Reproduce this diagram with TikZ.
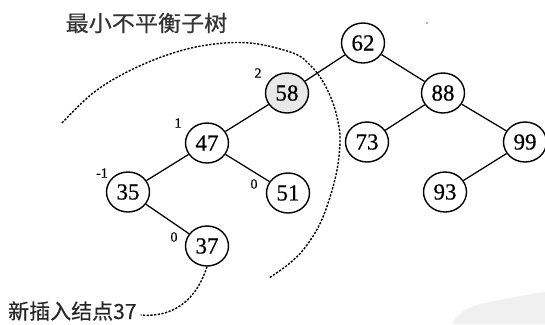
\documentclass[tikz,border=0pt]{standalone}
\usepackage{fontspec}
\setmainfont{Liberation Serif}
\newfontfamily\numfont[FakeBold=0.5]{Liberation Serif}
\newfontfamily\cjk[FakeBold=0.4]{Noto Sans CJK SC}
\newfontfamily\cjkwide[FakeStretch=1.05,FakeBold=0.4]{Noto Sans CJK SC}
\usetikzlibrary{shapes.geometric}
\begin{document}
\begin{tikzpicture}[x=1pt,y=-1pt,
  treenode/.style={draw, ellipse, line width=1.4pt, minimum width=43pt, minimum height=40pt, inner sep=0pt, fill=white, font=\numfont\fontsize{23}{23}\selectfont},
  hotnode/.style={treenode, fill=black!9},
  edge/.style={line width=1.25pt},
  bf/.style={inner sep=0pt, font=\numfont\fontsize{14}{14}\selectfont},
  dashcurve/.style={line width=1.4pt, dash pattern=on 2.2pt off 1.5pt}]
\useasboundingbox (0,0) rectangle (545,324);
% faint background swoosh
\fill[black!6] (452,324) .. controls (458,312) and (470,305) .. (490,302) .. controls (510,298) and (530,294) .. (545,292) -- (545,324) -- cycle;
\fill[black!60] (427,23) circle (0.9pt);
% dashed arc around the minimal unbalanced subtree
\draw[dashcurve] plot[smooth, tension=0.6] coordinates {(62,123) (93,93) (127,72) (167,55) (207,45) (250,43) (293,53) (310,65) (322,80) (331,98) (337,117) (340,140) (336,175) (323,217) (307,245) (290,263) (269,278)};
% nodes
\node[treenode] (n62) at (363,43) {62};
\node[hotnode]  (n58) at (287,93) {58};
\node[treenode] (n88) at (443,93) {88};
\node[treenode] (n47) at (207,143) {47};
\node[treenode] (n73) at (367,142) {73};
\node[treenode] (n99) at (525,142) {99};
\node[treenode] (n35) at (128,192) {35};
\node[treenode] (n51) at (288,193) {51};
\node[treenode] (n93) at (445,192) {93};
\node[treenode] (n37) at (207,246) {37};
% edges
\draw[edge] (n62) -- (n58);
\draw[edge] (n62) -- (n88);
\draw[edge] (n58) -- (n47);
\draw[edge] (n47) -- (n35);
\draw[edge] (n47) -- (n51);
\draw[edge] (n35) -- (n37);
\draw[edge] (n88) -- (n73);
\draw[edge] (n88) -- (n99);
\draw[edge] (n99) -- (n93);
% balance factors
\node[bf] (b58) at (258,73) {2};
\node[bf] (b47) at (178,123) {1};
\node[bf] (b35) at (102,173) {-1};
\node[bf] (b51) at (254,184) {0};
\node[bf] (b37) at (174,237) {0};
% labels
\node[inner sep=0pt, font=\cjkwide\fontsize{22}{22}\selectfont, text=black!80] (title) at (146.5,23) {最小不平衡子树};
\node[inner sep=0pt, anchor=west, font=\cjk\fontsize{21}{21}\selectfont, text=black!85] (newlab) at (8,311) {新插入结点37};
\coordinate (labend) at ([xshift=4pt,yshift=-4pt]newlab.east);
\draw[dashcurve] (n37.south) .. controls (198,295) and (178,318) .. (labend);
\end{tikzpicture}
\end{document}
